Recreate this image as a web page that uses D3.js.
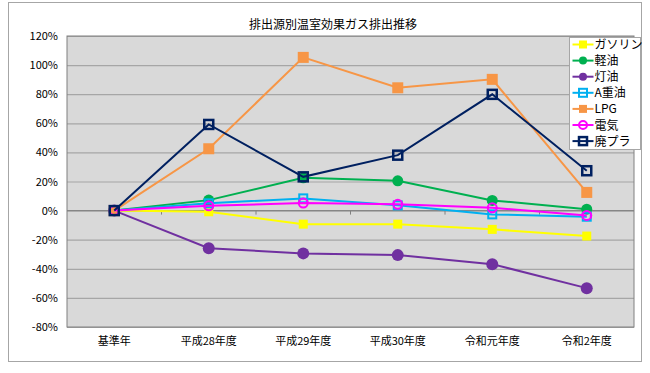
<!DOCTYPE html>
<html>
<head>
<meta charset="utf-8">
<script src="https://cdn.jsdelivr.net/npm/d3@7"></script>
<style>
  body { margin: 0; background: #fff; }
  text { font-family: "Noto Sans CJK JP", "Noto Sans", sans-serif; fill: #000; }
</style>
</head>
<body>
<div id="graphic"></div>
<script>
// categories & values (% change vs base year)
const categories = ["基準年", "平成28年度", "平成29年度", "平成30年度", "令和元年度", "令和2年度"];
const yTicks = [-80, -60, -40, -20, 0, 20, 40, 60, 80, 100, 120];

const gasoline = [0, -0.8, -9.3, -9.3, -12.9, -17.5];
const diesel   = [0, 7.2, 22.5, 20.5, 7.0, 1.0];
const kerosene = [0, -25.8, -29.4, -30.6, -36.8, -53.3];
const heavyA   = [0, 5.0, 8.4, 3.6, -2.6, -4.2];
const lpg      = [0, 42.5, 105.3, 84.4, 90.2, 12.5];
const power    = [0, 3.3, 5.2, 4.3, 1.9, -3.3];
const plastic  = [0, 59.2, 23.2, 38.1, 79.9, 27.4];

const seriesNames = ["ガソリン", "軽油", "灯油", "A重油", "LPG", "電気", "廃プラ"];
const seriesValues = [gasoline, diesel, kerosene, heavyA, lpg, power, plastic];

// marker styles per series
const styles = [
  { color: "#ffff00", shape: "square", size: 9, fill: "#ffff00", sw: 0 },
  { color: "#00b050", shape: "circle", size: 11, fill: "#00b050", sw: 0 },
  { color: "#7030a0", shape: "circle", size: 12, fill: "#7030a0", sw: 0 },
  { color: "#00b0f0", shape: "square", size: 8, fill: "none", sw: 2 },
  { color: "#f79646", shape: "square", size: 11, fill: "#f79646", sw: 0 },
  { color: "#ff00ff", shape: "circle", size: 9, fill: "none", sw: 2 },
  { color: "#002060", shape: "square", size: 9, fill: "none", sw: 2.5 }
];

const W = 650, H = 373;
const margin = { left: 67, right: 16, top: 36, bottom: 46 };
const width = W - margin.left - margin.right;
const height = H - margin.top - margin.bottom;

const svg = d3.select("#graphic").append("svg")
  .attr("width", W).attr("height", H);

// chart border
svg.append("rect")
  .attr("x", 8.5).attr("y", 2.5).attr("width", 633).attr("height", 359)
  .attr("fill", "#fff").attr("stroke", "#a6a6a6");

svg.append("text")
  .attr("x", 333).attr("y", 29)
  .attr("text-anchor", "middle")
  .attr("font-size", 12)
  .text("排出源別温室効果ガス排出推移");

const plot = svg.append("g")
  .attr("transform", `translate(${margin.left}, ${margin.top})`);

const xScale = d3.scaleBand().domain(categories).range([0, width]);
const yScale = d3.scaleLinear().domain([-80, 120]).range([height, 0]);
const xPos = i => xScale(categories[i]) + xScale.bandwidth() / 2;

plot.append("rect")
  .attr("width", width).attr("height", height)
  .attr("fill", "#d9d9d9");

// grid lines
plot.append("g")
  .attr("class", "grid")
  .call(d3.axisLeft(yScale).tickValues(yTicks).tickSize(-width).tickFormat(""))
  .call(g => g.select(".domain").remove())
  .call(g => g.selectAll("line").attr("stroke", "#a6a6a6").attr("stroke-width", 1.2));

// y axis labels
plot.append("g")
  .attr("class", "axis yaxis")
  .call(d3.axisLeft(yScale).tickValues(yTicks).tickSize(0).tickPadding(9).tickFormat(d => d + "%"))
  .call(g => g.select(".domain").remove())
  .call(g => g.selectAll("text").attr("font-size", 11).attr("font-family", "Noto Sans CJK JP, sans-serif"));

// zero line with ticks between categories
plot.append("line")
  .attr("x1", 0).attr("x2", width)
  .attr("y1", yScale(0)).attr("y2", yScale(0))
  .attr("stroke", "#808080").attr("stroke-width", 1);
plot.append("g")
  .selectAll("line")
  .data(categories.slice(1))
  .enter().append("line")
  .attr("x1", d => xScale(d)).attr("x2", d => xScale(d))
  .attr("y1", yScale(0)).attr("y2", yScale(0) + 4)
  .attr("stroke", "#808080");

plot.append("rect")
  .attr("width", width).attr("height", height)
  .attr("fill", "none").attr("stroke", "#808080");

// x labels
plot.append("g")
  .attr("class", "axis xaxis")
  .attr("transform", `translate(0, ${height})`)
  .call(d3.axisBottom(xScale).tickSize(0).tickPadding(10))
  .call(g => g.select(".domain").remove())
  .call(g => g.selectAll("text").attr("font-size", 11).attr("font-family", "Noto Sans CJK JP, sans-serif"));

function drawMarker(g, st, x, y) {
  if (st.shape === "square") {
    const s = st.size;
    g.append("rect")
      .attr("x", x - s / 2).attr("y", y - s / 2)
      .attr("width", s).attr("height", s)
      .attr("fill", st.fill).attr("stroke", st.sw ? st.color : "none")
      .attr("stroke-width", st.sw);
  } else {
    g.append("circle")
      .attr("cx", x).attr("cy", y).attr("r", st.size / 2)
      .attr("fill", st.fill).attr("stroke", st.sw ? st.color : "none")
      .attr("stroke-width", st.sw);
  }
}

const line = d3.line()
  .x((d, i) => xPos(i))
  .y(d => yScale(d));

seriesValues.forEach((vals, k) => {
  const st = styles[k];
  const g = plot.append("g").attr("class", "series");
  g.append("path")
    .datum(vals)
    .attr("d", line)
    .attr("fill", "none")
    .attr("stroke", st.color)
    .attr("stroke-width", 2);
  vals.forEach((v, i) => drawMarker(g, st, xPos(i), yScale(v)));
});

// legend
const legend = svg.append("g").attr("transform", "translate(569.5, 37.5)");
legend.append("rect")
  .attr("width", 71).attr("height", 112)
  .attr("fill", "#fff").attr("stroke", "#a6a6a6");
seriesNames.forEach((name, k) => {
  const st = styles[k];
  const y = 7 + k * 16.1;
  legend.append("line")
    .attr("x1", 3).attr("x2", 24).attr("y1", y).attr("y2", y)
    .attr("stroke", st.color).attr("stroke-width", 2);
  drawMarker(legend, Object.assign({}, st, { size: Math.min(st.size, 8) }), 13.5, y);
  legend.append("text")
    .attr("x", 25).attr("y", y + 4.5)
    .attr("font-size", 12)
    .text(name);
});
</script>
</body>
</html>
